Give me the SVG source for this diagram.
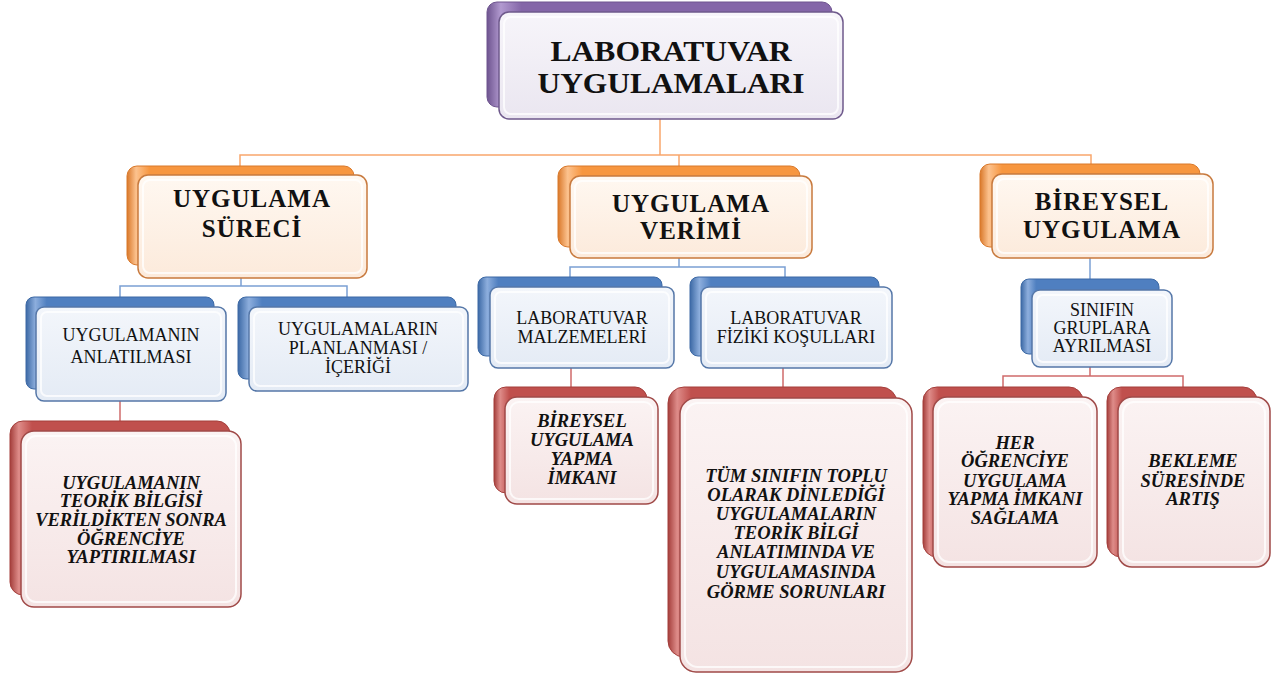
<svg xmlns="http://www.w3.org/2000/svg" width="1272" height="674" viewBox="0 0 1272 674" font-family="'Liberation Serif', Tinos, 'Times New Roman', serif">
<defs>
<linearGradient id="bkP" x1="0" y1="0" x2="1" y2="0"><stop offset="0" stop-color="#6E548F"/><stop offset="0.04" stop-color="#B29AD0"/><stop offset="0.1" stop-color="#8466A8"/><stop offset="1" stop-color="#8466A8"/></linearGradient>
<linearGradient id="bkO" x1="0" y1="0" x2="1" y2="0"><stop offset="0" stop-color="#D9782A"/><stop offset="0.04" stop-color="#FCC28E"/><stop offset="0.1" stop-color="#F7963F"/><stop offset="1" stop-color="#F7963F"/></linearGradient>
<linearGradient id="bkB" x1="0" y1="0" x2="1" y2="0"><stop offset="0" stop-color="#3C69A5"/><stop offset="0.05" stop-color="#8DAEDD"/><stop offset="0.11" stop-color="#4F7FC0"/><stop offset="1" stop-color="#4F7FC0"/></linearGradient>
<linearGradient id="bkR" x1="0" y1="0" x2="1" y2="0"><stop offset="0" stop-color="#A43E3B"/><stop offset="0.04" stop-color="#DE8C89"/><stop offset="0.1" stop-color="#C0504D"/><stop offset="1" stop-color="#C0504D"/></linearGradient>
<linearGradient id="frP" x1="0" y1="0" x2="0" y2="1"><stop offset="0" stop-color="#F7F5FA"/><stop offset="1" stop-color="#EAE6F0"/></linearGradient>
<linearGradient id="frO" x1="0" y1="0" x2="0" y2="1"><stop offset="0" stop-color="#FFF8F1"/><stop offset="1" stop-color="#FCEADB"/></linearGradient>
<linearGradient id="frB" x1="0" y1="0" x2="0" y2="1"><stop offset="0" stop-color="#F3F6FB"/><stop offset="1" stop-color="#E4EBF5"/></linearGradient>
<linearGradient id="frR" x1="0" y1="0" x2="0" y2="1"><stop offset="0" stop-color="#FBF3F3"/><stop offset="1" stop-color="#F4E3E3"/></linearGradient>
</defs>
<style>
.bkP{fill:url(#bkP);stroke:#6E548F;stroke-width:1}
.bkO{fill:url(#bkO);stroke:#D9782A;stroke-width:1}
.bkB{fill:url(#bkB);stroke:#3C69A5;stroke-width:1}
.bkR{fill:url(#bkR);stroke:#A43E3B;stroke-width:1}
.frP{fill:url(#frP);stroke:#6F5A8C;stroke-width:1.5}
.frO{fill:url(#frO);stroke:#C87A3E;stroke-width:1.5}
.frB{fill:url(#frB);stroke:#5577A8;stroke-width:1.5}
.frR{fill:url(#frR);stroke:#A04A48;stroke-width:1.5}
.hl{fill:none;stroke:#FFFFFF;stroke-width:2;opacity:0.75}
.cO{fill:none;stroke:#F9A66C;stroke-width:1.5}
.cB{fill:none;stroke:#7BA0D4;stroke-width:1.5}
.cR{fill:none;stroke:#CF6B6B;stroke-width:1.5}
text{font-family:'Liberation Serif', Tinos, 'Times New Roman', serif;fill:#111;text-anchor:middle}
.t0{font-size:28.5px;font-weight:bold}
.t1{font-size:25px;font-weight:bold;letter-spacing:1px}
.t2{font-size:18px}
.t3{font-size:18.5px;font-weight:bold;font-style:italic}
</style>
<g id="connectors">
<path class="cO" d="M660,119 V155 M240,166 V155 H1091 V164 M679,155 V166"/>
<path class="cB" d="M241,278 V286 M120,297 V286 H347 V297"/>
<path class="cB" d="M679,258 V267 M570,277 V267 H785 V277"/>
<path class="cB" d="M1090,258 V279"/>
<path class="cR" d="M120,401 V421"/>
<path class="cR" d="M571,368 V387 M783,368 V387"/>
<path class="cR" d="M1090,367 V376 M1003,387 V376 H1183 V387"/>
</g>
<g id="n-root">
<rect class="bkP" x="487" y="2" width="345" height="105" rx="10"/>
<rect class="frP" x="499" y="12" width="344" height="107" rx="10"/>
<rect class="hl" x="504" y="17" width="334" height="97" rx="7"/>
<text class="t0" x="671" y="61" textLength="241" lengthAdjust="spacingAndGlyphs">LABORATUVAR</text>
<text class="t0" x="671" y="93" textLength="267" lengthAdjust="spacingAndGlyphs">UYGULAMALARI</text>
</g>
<g id="n-surec">
<rect class="bkO" x="127" y="166" width="227" height="99" rx="10"/>
<rect class="frO" x="138" y="175" width="229" height="103" rx="10"/>
<rect class="hl" x="143" y="180" width="219" height="93" rx="7"/>
<text class="t1" x="252" y="207">UYGULAMA</text>
<text class="t1" x="252" y="237">SÜRECİ</text>
</g>
<g id="n-verim">
<rect class="bkO" x="558" y="166" width="242" height="81" rx="10"/>
<rect class="frO" x="570" y="176" width="242" height="82" rx="10"/>
<rect class="hl" x="575" y="181" width="232" height="72" rx="7"/>
<text class="t1" x="691" y="212">UYGULAMA</text>
<text class="t1" x="691" y="239">VERİMİ</text>
</g>
<g id="n-bireysel">
<rect class="bkO" x="980" y="164" width="220" height="83" rx="10"/>
<rect class="frO" x="992" y="174" width="221" height="84" rx="10"/>
<rect class="hl" x="997" y="179" width="211" height="74" rx="7"/>
<text class="t1" x="1102" y="210">BİREYSEL</text>
<text class="t1" x="1102" y="238">UYGULAMA</text>
</g>
<g id="n-anlatim">
<rect class="bkB" x="26" y="297" width="188" height="92" rx="8"/>
<rect class="frB" x="36" y="307" width="190" height="94" rx="8"/>
<rect class="hl" x="41" y="312" width="180" height="84" rx="6"/>
<text class="t2" x="131" y="341">UYGULAMANIN</text>
<text class="t2" x="131" y="363">ANLATILMASI</text>
</g>
<g id="n-planlama">
<rect class="bkB" x="238" y="297" width="218" height="82" rx="8"/>
<rect class="frB" x="249" y="307" width="219" height="84" rx="8"/>
<rect class="hl" x="254" y="312" width="209" height="74" rx="6"/>
<text class="t2" x="358" y="335">UYGULAMALARIN</text>
<text class="t2" x="358" y="354">PLANLANMASI  /</text>
<text class="t2" x="358" y="373">İÇERİĞİ</text>
</g>
<g id="n-malzeme">
<rect class="bkB" x="478" y="277" width="184" height="79" rx="8"/>
<rect class="frB" x="490" y="287" width="184" height="81" rx="8"/>
<rect class="hl" x="495" y="292" width="174" height="71" rx="6"/>
<text class="t2" x="582" y="324">LABORATUVAR</text>
<text class="t2" x="582" y="343">MALZEMELERİ</text>
</g>
<g id="n-fiziki">
<rect class="bkB" x="690" y="277" width="189" height="79" rx="8"/>
<rect class="frB" x="701" y="287" width="191" height="81" rx="8"/>
<rect class="hl" x="706" y="292" width="181" height="71" rx="6"/>
<text class="t2" x="796" y="324">LABORATUVAR</text>
<text class="t2" x="796" y="343">FİZİKİ KOŞULLARI</text>
</g>
<g id="n-gruplar">
<rect class="bkB" x="1021" y="279" width="138" height="75" rx="8"/>
<rect class="frB" x="1032" y="290" width="140" height="77" rx="8"/>
<rect class="hl" x="1037" y="295" width="130" height="67" rx="6"/>
<text class="t2" x="1102" y="316">SINIFIN</text>
<text class="t2" x="1102" y="334">GRUPLARA</text>
<text class="t2" x="1102" y="352">AYRILMASI</text>
</g>
<g id="n-teorik">
<rect class="bkR" x="10" y="421" width="220" height="174" rx="13"/>
<rect class="frR" x="21" y="431" width="220" height="176" rx="13"/>
<rect class="hl" x="26" y="436" width="210" height="166" rx="10"/>
<text class="t3" x="131" y="489">UYGULAMANIN</text>
<text class="t3" x="131" y="507">TEORİK BİLGİSİ</text>
<text class="t3" x="131" y="526">VERİLDİKTEN SONRA</text>
<text class="t3" x="131" y="545">ÖĞRENCİYE</text>
<text class="t3" x="131" y="563">YAPTIRILMASI</text>
</g>
<g id="n-imkan">
<rect class="bkR" x="494" y="387" width="153" height="106" rx="12"/>
<rect class="frR" x="505" y="397" width="153" height="107" rx="12"/>
<rect class="hl" x="510" y="402" width="143" height="97" rx="9"/>
<text class="t3" x="582" y="427">BİREYSEL</text>
<text class="t3" x="582" y="446">UYGULAMA</text>
<text class="t3" x="582" y="465">YAPMA</text>
<text class="t3" x="582" y="484">İMKANI</text>
</g>
<g id="n-gorme">
<rect class="bkR" x="668" y="387" width="229" height="270" rx="16"/>
<rect class="frR" x="680" y="398" width="232" height="274" rx="16"/>
<rect class="hl" x="685" y="403" width="222" height="264" rx="13"/>
<text class="t3" x="796" y="482">TÜM SINIFIN TOPLU</text>
<text class="t3" x="796" y="501">OLARAK DİNLEDİĞİ</text>
<text class="t3" x="796" y="520">UYGULAMALARIN</text>
<text class="t3" x="796" y="539">TEORİK BİLGİ</text>
<text class="t3" x="796" y="558">ANLATIMINDA VE</text>
<text class="t3" x="796" y="578">UYGULAMASINDA</text>
<text class="t3" x="796" y="598">GÖRME SORUNLARI</text>
</g>
<g id="n-her">
<rect class="bkR" x="923" y="387" width="160" height="170" rx="14"/>
<rect class="frR" x="933" y="397" width="164" height="170" rx="14"/>
<rect class="hl" x="938" y="402" width="154" height="160" rx="11"/>
<text class="t3" x="1015" y="449">HER</text>
<text class="t3" x="1015" y="467">ÖĞRENCİYE</text>
<text class="t3" x="1015" y="487">UYGULAMA</text>
<text class="t3" x="1015" y="505">YAPMA İMKANI</text>
<text class="t3" x="1015" y="524">SAĞLAMA</text>
</g>
<g id="n-bekleme">
<rect class="bkR" x="1107" y="387" width="150" height="170" rx="14"/>
<rect class="frR" x="1118" y="397" width="152" height="170" rx="14"/>
<rect class="hl" x="1123" y="402" width="142" height="160" rx="11"/>
<text class="t3" x="1193" y="467">BEKLEME</text>
<text class="t3" x="1193" y="487">SÜRESİNDE</text>
<text class="t3" x="1193" y="505">ARTIŞ</text>
</g>
</svg>
